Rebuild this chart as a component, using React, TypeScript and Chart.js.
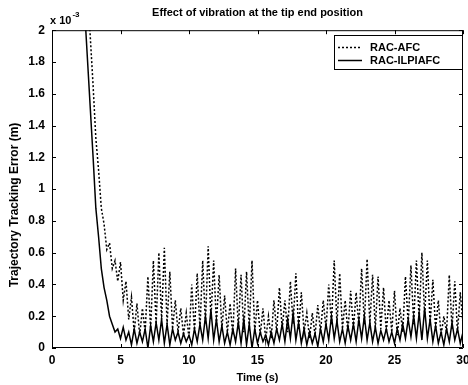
import React, { useEffect, useRef } from "react";
import { Chart, registerables } from "chart.js";

Chart.register(...registerables);

const chartTitle = "Effect of vibration at the tip end position";
const xLabel = "Time (s)";
const yLabel = "Trajectory Tracking Error (m)";
const seriesNames = ["RAC-AFC", "RAC-ILPIAFC"];
const yTicks = [0, 0.2, 0.4, 0.6, 0.8, 1, 1.2, 1.4, 1.6, 1.8, 2];
const xTicks = [0, 5, 10, 15, 20, 25, 30];

const time = [
  0, 0.2, 0.4, 0.6, 0.8, 1, 1.2, 1.4, 1.6, 1.8,
  2, 2.2, 2.4, 2.6, 2.8, 3, 3.2, 3.4, 3.6, 3.8,
  4, 4.2, 4.4, 4.6, 4.8, 5, 5.2, 5.4, 5.6, 5.8,
  6, 6.2, 6.4, 6.6, 6.8, 7, 7.2, 7.4, 7.6, 7.8,
  8, 8.2, 8.4, 8.6, 8.8, 9, 9.2, 9.4, 9.6, 9.8,
  10, 10.2, 10.4, 10.6, 10.8, 11, 11.2, 11.4, 11.6, 11.8,
  12, 12.2, 12.4, 12.6, 12.8, 13, 13.2, 13.4, 13.6, 13.8,
  14, 14.2, 14.4, 14.6, 14.8, 15, 15.2, 15.4, 15.6, 15.8,
  16, 16.2, 16.4, 16.6, 16.8, 17, 17.2, 17.4, 17.6, 17.8,
  18, 18.2, 18.4, 18.6, 18.8, 19, 19.2, 19.4, 19.6, 19.8,
  20, 20.2, 20.4, 20.6, 20.8, 21, 21.2, 21.4, 21.6, 21.8,
  22, 22.2, 22.4, 22.6, 22.8, 23, 23.2, 23.4, 23.6, 23.8,
  24, 24.2, 24.4, 24.6, 24.8, 25, 25.2, 25.4, 25.6, 25.8,
  26, 26.2, 26.4, 26.6, 26.8, 27, 27.2, 27.4, 27.6, 27.8,
  28, 28.2, 28.4, 28.6, 28.8, 29, 29.2, 29.4, 29.6, 29.8,
  30,
];

// values in units of 1e-3 m
const racAfc = [
  9.0, 8.5, 8.0, 7.4, 6.8, 6.2, 5.5, 4.9, 4.3, 3.8,
  3.3, 2.9, 2.55, 2.25, 1.95, 1.65, 1.32, 1.12, 0.88, 0.78,
  0.62, 0.66, 0.5, 0.55, 0.42, 0.54, 0.3, 0.42, 0.18, 0.32,
  0.1, 0.28, 0.08, 0.25, 0.1, 0.45, 0.12, 0.55, 0.15, 0.6,
  0.18, 0.63, 0.15, 0.48, 0.12, 0.3, 0.1, 0.25, 0.08, 0.22,
  0.06, 0.4, 0.1, 0.47, 0.12, 0.55, 0.15, 0.64, 0.18, 0.55,
  0.15, 0.46, 0.12, 0.33, 0.1, 0.28, 0.08, 0.5, 0.12, 0.46,
  0.1, 0.48, 0.12, 0.55, 0.1, 0.3, 0.08, 0.25, 0.05, 0.2,
  0.06, 0.3, 0.1, 0.38, 0.12, 0.3, 0.1, 0.42, 0.15, 0.47,
  0.12, 0.35, 0.1, 0.22, 0.06, 0.22, 0.08, 0.27, 0.1, 0.3,
  0.12, 0.4, 0.15, 0.55, 0.15, 0.47, 0.12, 0.3, 0.1, 0.36,
  0.12, 0.35, 0.14, 0.5, 0.15, 0.56, 0.15, 0.46, 0.12, 0.45,
  0.12, 0.38, 0.1, 0.3, 0.1, 0.36, 0.08, 0.25, 0.1, 0.45,
  0.15, 0.52, 0.15, 0.55, 0.18, 0.6, 0.2, 0.55, 0.15, 0.43,
  0.12, 0.3, 0.08, 0.2, 0.1, 0.46, 0.12, 0.42, 0.1, 0.35,
  0.15,
];

const racIlpiafc = [
  7.5, 7.0, 6.4, 5.8, 5.2, 4.6, 4.0, 3.5, 3.05, 2.7,
  2.45, 2.25, 2.1, 1.8, 1.5, 1.2, 0.88, 0.7, 0.5, 0.38,
  0.3, 0.2, 0.15, 0.1, 0.12, 0.06, 0.13, 0.05, 0.1, 0.02,
  0.12, 0.03, 0.1, 0.04, 0.12, 0.0, 0.14, 0.04, 0.16, 0.05,
  0.18, 0.03, 0.15, 0.02, 0.12, 0.05, 0.1, 0.03, 0.09, 0.04,
  0.08, 0.02, 0.12, 0.04, 0.15, 0.05, 0.2, 0.06, 0.24, 0.05,
  0.18, 0.04, 0.14, 0.03, 0.1, 0.02, 0.12, 0.04, 0.16, 0.03,
  0.18, 0.02, 0.15, 0.0, 0.12, 0.03, 0.1, 0.04, 0.08, 0.02,
  0.1, 0.03, 0.12, 0.05, 0.15, 0.04, 0.18, 0.06, 0.22, 0.05,
  0.16, 0.03, 0.12, 0.02, 0.1, 0.03, 0.09, 0.01, 0.12, 0.04,
  0.15, 0.05, 0.2, 0.06, 0.17, 0.04, 0.12, 0.03, 0.14, 0.05,
  0.15, 0.04, 0.18, 0.06, 0.2, 0.05, 0.16, 0.04, 0.13, 0.03,
  0.11, 0.05, 0.12, 0.04, 0.1, 0.03, 0.12, 0.05, 0.15, 0.06,
  0.18, 0.07, 0.2, 0.06, 0.22, 0.05, 0.25, 0.06, 0.18, 0.04,
  0.14, 0.03, 0.1, 0.02, 0.12, 0.04, 0.16, 0.05, 0.12, 0.03,
  0.1,
];

const FONT = "'Liberation Sans', Arial, Helvetica, sans-serif";

const framePlugin = {
  id: "frame",
  afterDatasetsDraw(chart: any) {
    const { ctx, chartArea } = chart;
    const { left, right, top, bottom } = chartArea;
    const xs = chart.scales.x;
    const ys = chart.scales.y;
    ctx.save();
    ctx.strokeStyle = "#000";
    ctx.lineWidth = 1;
    ctx.beginPath();
    ctx.rect(left + 0.5, top + 0.5, right - left - 1, bottom - top - 1);
    ctx.stroke();
    ctx.beginPath();
    const tl = 4;
    yTicks.forEach((v) => {
      const py = Math.round(ys.getPixelForValue(v)) + 0.5;
      ctx.moveTo(left, py);
      ctx.lineTo(left + tl, py);
      ctx.moveTo(right, py);
      ctx.lineTo(right - tl, py);
    });
    xTicks.forEach((v) => {
      const px = Math.round(xs.getPixelForValue(v)) + 0.5;
      ctx.moveTo(px, bottom);
      ctx.lineTo(px, bottom - tl);
      ctx.moveTo(px, top);
      ctx.lineTo(px, top + tl);
    });
    ctx.stroke();

    // y-axis title
    ctx.save();
    ctx.translate(15, 205);
    ctx.rotate(-Math.PI / 2);
    ctx.fillStyle = "#000";
    ctx.textAlign = "center";
    ctx.textBaseline = "middle";
    ctx.font = `bold 12px ${FONT}`;
    ctx.fillText(yLabel, 0, 0);
    ctx.restore();

    // exponent label
    ctx.fillStyle = "#000";
    ctx.textBaseline = "alphabetic";
    ctx.textAlign = "left";
    ctx.font = `bold 11px ${FONT}`;
    ctx.fillText("x 10", 50, 24);
    const w = ctx.measureText("x 10").width;
    ctx.font = `bold 8px ${FONT}`;
    ctx.fillText("-3", 50 + w + 1, 17);

    // legend
    const lx = 334, ly = 35, lw = right - lx, lh = 35;
    ctx.fillStyle = "#fff";
    ctx.fillRect(lx, ly, lw, lh);
    ctx.strokeStyle = "#000";
    ctx.lineWidth = 1;
    ctx.strokeRect(lx + 0.5, ly + 0.5, lw - 1, lh - 1);
    const rows = [47, 60];
    rows.forEach((ry, i) => {
      ctx.beginPath();
      ctx.lineWidth = 1.5;
      ctx.setLineDash(i === 0 ? [2, 2] : []);
      ctx.moveTo(338, ry + 0.5);
      ctx.lineTo(362, ry + 0.5);
      ctx.stroke();
      ctx.setLineDash([]);
      ctx.fillStyle = "#000";
      ctx.font = `bold 11px ${FONT}`;
      ctx.textBaseline = "middle";
      ctx.fillText(seriesNames[i], 370, ry + 0.5);
    });
    ctx.restore();
  },
};

export default function App() {
  const ref = useRef<HTMLCanvasElement | null>(null);
  useEffect(() => {
    if (!ref.current) return;
    const chart = new Chart(ref.current, {
      type: "line",
      data: {
        datasets: [
          {
            label: seriesNames[0],
            data: time.map((t, i) => ({ x: t, y: racAfc[i] })),
            borderColor: "#000",
            borderWidth: 1.5,
            borderDash: [2, 2],
            pointRadius: 0,
            tension: 0,
          },
          {
            label: seriesNames[1],
            data: time.map((t, i) => ({ x: t, y: racIlpiafc[i] })),
            borderColor: "#000",
            borderWidth: 1.5,
            pointRadius: 0,
            tension: 0,
          },
        ],
      },
      options: {
        responsive: false,
        animation: false,
        events: [],
        layout: { padding: { left: 0, right: 5, top: 0, bottom: 0 } },
        plugins: {
          legend: { display: false },
          tooltip: { enabled: false },
          title: {
            display: true,
            text: chartTitle,
            fullSize: false,
            color: "#000",
            font: { family: FONT, size: 11, weight: "bold" },
            padding: { top: 6, bottom: 11 },
          },
        },
        scales: {
          x: {
            type: "linear",
            min: 0,
            max: 30,
            afterBuildTicks: (s: any) => {
              s.ticks = xTicks.map((v) => ({ value: v }));
            },
            grid: { display: false, drawTicks: false, tickLength: 0 },
            border: { display: false },
            ticks: {
              color: "#000",
              padding: 5,
              maxRotation: 0,
              font: { family: FONT, size: 12, weight: "bold" },
            },
            title: {
              display: true,
              text: xLabel,
              color: "#000",
              font: { family: FONT, size: 11, weight: "bold" },
              padding: { top: 2, bottom: 0 },
            },
            afterFit: (s: any) => {
              s.height = 37;
              s.paddingLeft = 0;
              s.paddingRight = 0;
            },
          },
          y: {
            type: "linear",
            min: 0,
            max: 2,
            afterBuildTicks: (s: any) => {
              s.ticks = yTicks.map((v) => ({ value: v }));
            },
            grid: { display: false, drawTicks: false, tickLength: 0 },
            border: { display: false },
            ticks: {
              color: "#000",
              padding: 7,
              font: { family: FONT, size: 12, weight: "bold" },
              callback: (v: any) => String(Number(Number(v).toFixed(1))),
            },
            afterFit: (s: any) => {
              s.width = 52;
              s.paddingTop = 0;
              s.paddingBottom = 0;
            },
          },
        },
      },
      plugins: [framePlugin],
    });
    return () => chart.destroy();
  }, []);
  return (
    <div style={{ position: "fixed", left: 0, top: 0, width: 468, height: 385, background: "#fff" }}>
      <canvas ref={ref} width={468} height={385} style={{ width: 468, height: 385, display: "block" }} />
    </div>
  );
}
